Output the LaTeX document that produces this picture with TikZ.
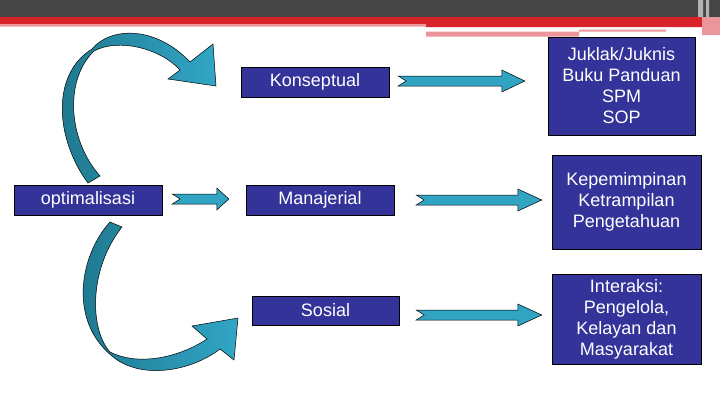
\documentclass[tikz,border=0pt]{standalone}
\usepackage{fontspec}
\setmainfont{Liberation Sans}
\usepackage{tikz}
\usetikzlibrary{calc}

\definecolor{boxblue}{RGB}{51,51,153}
\definecolor{arrowteal}{RGB}{50,164,195}
\definecolor{curvedark}{RGB}{30,118,140}
\definecolor{curvelight}{RGB}{50,166,198}
\definecolor{bardark}{RGB}{69,69,69}
\definecolor{barred}{RGB}{216,35,42}
\definecolor{barpink}{RGB}{234,150,155}

\tikzset{
  box/.style={draw=black, fill=boxblue, text=white, inner sep=0pt,
    align=center, font=\fontsize{18}{21}\selectfont},
  barrow/.style={draw=black, fill=arrowteal, line width=0.5pt},
  curvearrow/.style={draw=black, line width=0.5pt, left color=curvedark, right color=curvelight},
}

% block arrow with notched tail: #1 head length, #2 tail, #3 tip
\newcommand{\blockarrow}[3]{%
  \draw[barrow] let \p1=#2, \p2=#3 in
    (\x1,\y1+5pt) -- (\x2-#1,\y1+5pt) -- (\x2-#1,\y1+11pt) -- (\x2,\y1)
    -- (\x2-#1,\y1-11pt) -- (\x2-#1,\y1-5pt) -- (\x1,\y1-5pt) -- (\x1+8pt,\y1) -- cycle;}

\begin{document}
\begin{tikzpicture}[x=1pt, y=-1pt]
    \useasboundingbox (0,0) rectangle (720,405);
    %% Title bar
    \fill[bardark] (0,0) rectangle (720,17);
    \fill[barred] (0,17) rectangle (720,24) (426,24) rectangle (720,27);
    \fill[barpink]
    (0,24) rectangle (426,26.5)
    (426,31.5) rectangle (579,36.5)
    (579,29.5) rectangle (666,31.5)
    (702,17) rectangle (720,35)
    ;
    \fill[gray!60] (698,0) rectangle (703,17) (706,0) rectangle (709,17);

    %% Curved arrows
    \draw[curvearrow] (88,183) .. controls (56,140) and (50,75) .. (92,49)
      .. controls (110,27) and (155,25) .. (190,62)
      -- (213,44) -- (216,86) -- (168,79) -- (180,70)
      .. controls (160,48) and (118,38) .. (94,51)
      .. controls (64,80) and (68,140) .. (100,176) -- cycle;
    \draw[curvearrow] (110,222) .. controls (80,255) and (68,320) .. (112,356)
      .. controls (140,380) and (190,372) .. (220,349)
      -- (234,360) -- (238,318) -- (192,326) -- (207,339)
      .. controls (175,360) and (135,365) .. (110,352)
      .. controls (90,330) and (88,270) .. (122,227) -- cycle;

    %% Boxes
    \node[box, minimum width=148, minimum height=30] (optim) at (88,200) {optimalisasi};
    \node[box, minimum width=148, minimum height=30] (konsep) at (315,82) {Konseptual};
    \node[box, minimum width=148, minimum height=30] (manaj) at (320,200) {Manajerial};
    \node[box, minimum width=147, minimum height=29] (sosial) at (325.5,310.5) {Sosial};
    \node[box, minimum width=147, minimum height=98] (juklak) at (621.5,86)
      {Juklak/Juknis\\Buku Panduan\\SPM\\SOP};
    \node[box, minimum width=149, minimum height=94] (pimpin) at (626.5,202)
      {Kepemimpinan\\Ketrampilan\\Pengetahuan};
    \node[box, minimum width=149, minimum height=90] (interaksi) at (626.5,319)
      {Interaksi:\\Pengelola,\\Kelayan dan\\Masyarakat};

    %% Straight arrows
    \blockarrow{12pt}{($(optim.east)+(10,-1)$)}{($(manaj.west)+(-17,0)$)}
    \blockarrow{23pt}{($(konsep.east)+(9,-1)$)}{($(juklak.west)+(-23,0)$)}
    \blockarrow{24pt}{($(manaj.east)+(22,0)$)}{($(pimpin.west)+(-10,0)$)}
    \blockarrow{24pt}{($(sosial.east)+(17,4.5)$)}{($(interaksi.west)+(-10,0)$)}
\end{tikzpicture}
\end{document}
